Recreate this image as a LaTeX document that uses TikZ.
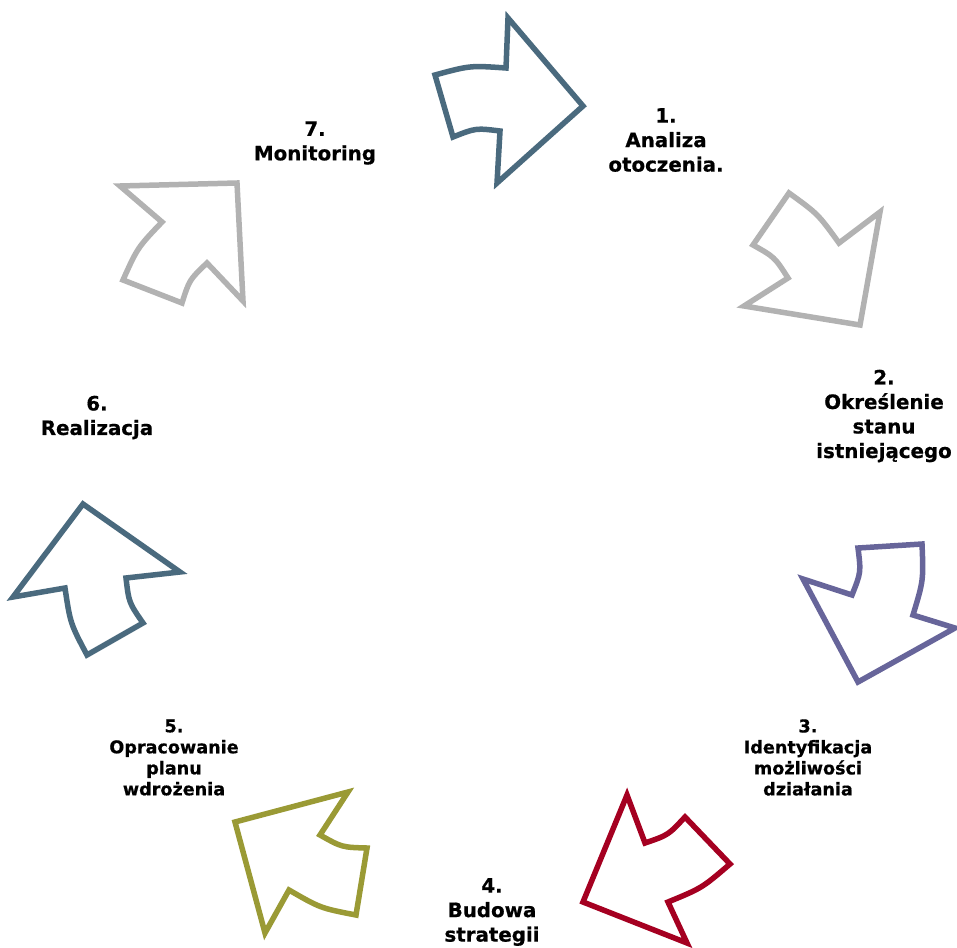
\documentclass[tikz,border=0pt]{standalone}
\usepackage{fontspec}
\setmainfont{DejaVu Sans}[BoldFeatures={FakeBold=0.6}]
\definecolor{slate}{RGB}{74,106,126}
\definecolor{lgray}{RGB}{178,178,178}
\definecolor{purp}{RGB}{103,101,154}
\definecolor{crim}{RGB}{165,0,33}
\definecolor{olivec}{RGB}{154,154,53}
\begin{document}
\begin{tikzpicture}[x=1pt,y=-1pt,
  arr/.style={line width=5.5pt, line join=miter, miter limit=10, fill=white},
  big/.style={font=\bfseries\fontsize{19.8}{24.5}\selectfont, align=center, inner sep=0pt},
  small/.style={font=\bfseries\fontsize{17.6}{21}\selectfont, align=center, inner sep=0pt}]
\useasboundingbox (0,0) rectangle (957,947);
% arrow 1
\draw[arr, draw=slate] (435,75) .. controls (470,65.5) .. (506,68) -- (508,18) -- (583,106) -- (497,183) -- (500,131) .. controls (475.7,128) .. (453,137) -- cycle;
% arrow 2
\draw[arr, draw=lgray] (789,193) .. controls (818,214) .. (839,243) -- (880,212) -- (860,325) -- (744,306) -- (788,278) .. controls (774.6,257.1) .. (753,245) -- cycle;
% arrow 3
\draw[arr, draw=purp] (858,548) -- (922,544) .. controls (923.5,580.3) .. (913,615) -- (955,628) -- (858,682) -- (803,579) -- (852,595) .. controls (861,572.3) .. cycle;
% arrow 4
\draw[arr, draw=crim] (583,902) -- (627,795) -- (645,843) .. controls (668.3,835) .. (685,817) -- (730,864) .. controls (702,888) .. (668,902) -- (687,943) -- cycle;
% arrow 5
\draw[arr, draw=olivec] (235,822) -- (348,792) -- (320,835) .. controls (341.9,847.3) .. (367,848) -- (356,915) .. controls (320.4,908.1) .. (289,890) -- (265,933) -- cycle;
% arrow 6
\draw[arr, draw=slate] (83,504) -- (180,572) -- (126,578) .. controls (128.9,602.6) .. (143,623) -- (87,655) .. controls (70.3,623.4) .. (65,588) -- (13,597) -- cycle;
% arrow 7
\draw[arr, draw=lgray] (237,183) -- (243,301) -- (207,263) .. controls (189.4,279.8) .. (182,303) -- (123,280) .. controls (137.5,247.7) .. (162,222) -- (120,186) -- cycle;
% labels
\node[big] (l1) at (666,140) {1.\\Analiza\\otoczenia.};
\node[big] (l2) at (884,416) {2.\\Określenie\\stanu\\istniejącego};
\node[small] (l3) at (808,757.5) {3.\\Identyfikacja\\możliwości\\działania};
\node[big] (l4) at (492,912) {4.\\Budowa\\strategii};
\node[small] (l5) at (174,757.5) {5.\\Opracowanie\\planu\\wdrożenia};
\node[big] (l6) at (97,417.5) {6.\\Realizacja};
\node[big] (l7) at (315,143) {7.\\Monitoring};
\end{tikzpicture}
\end{document}
